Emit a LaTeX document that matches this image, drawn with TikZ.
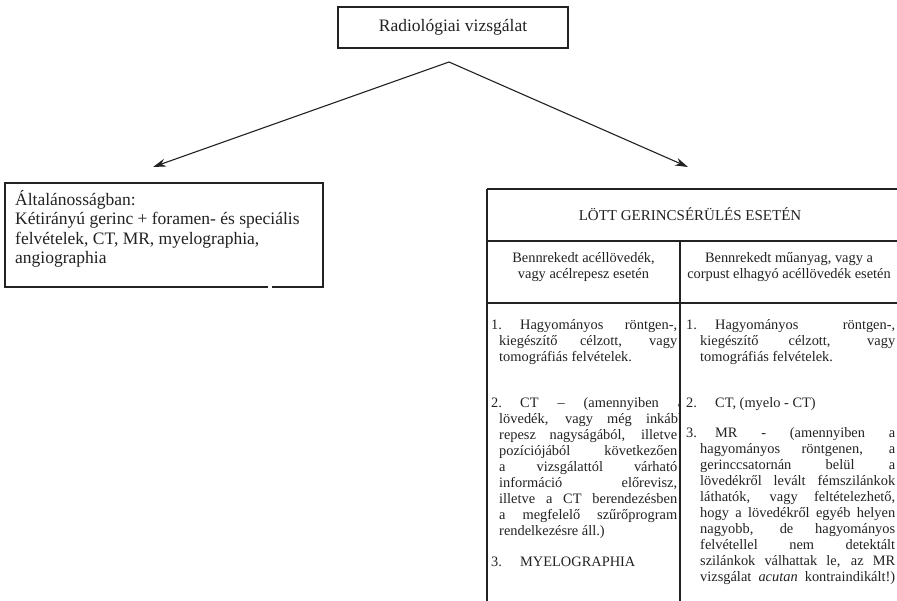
\documentclass[tikz,border=0pt]{standalone}
\usepackage{fontspec}
\setmainfont{Liberation Serif}
\usetikzlibrary{arrows.meta}
\definecolor{ink}{HTML}{222222}
% one justified line of a given width
\newcommand{\jline}[2]{\makebox[#1][s]{#2}}
\tikzset{headtip/.tip={Stealth[length=13pt,width=8pt]}}
\begin{document}
\begin{tikzpicture}[x=1pt,y=-1pt,
  boxline/.style={draw=ink, line width=1.1pt},
  gridline/.style={draw=ink, line width=1.3pt},
  conn/.style={draw=ink, line width=1.1pt},
  bigtxt/.style={font=\fontsize{17.5}{19.5}\selectfont, text=ink},
  % multi-line body texts are placed by the baseline of their last line
  bodytxt/.style={font=\fontsize{14.4}{16}\selectfont, text=ink, inner sep=0pt, anchor=base west, align=left},
  headtxt/.style={font=\fontsize{14.4}{16.5}\selectfont, text=ink, inner sep=0pt, align=center},
]
\useasboundingbox (0,0) rectangle (897,601);
\fill[white] (0,0) rectangle (897,601);

% root box
\node[boxline, bigtxt, minimum width=230pt, minimum height=41pt] (root) at (453,27.5) {Radiológiai vizsgálat};

% branching connector
\coordinate (apex) at (449,62);
\coordinate (ltip) at (153,167);
\coordinate (rtip) at (688,167);
\draw[conn, headtip-headtip] (ltip) -- (apex) -- (rtip);

% general box
\coordinate (gnw) at (5,183);
\coordinate (gne) at (323,183);
\coordinate (gse) at (323,287);
\coordinate (gsw) at (5,287);
\coordinate (ggapl) at (268,287);
\coordinate (ggapr) at (272,287);
\draw[boxline] (ggapl) -- (gsw) -- (gnw) -- (gne) -- (gse) -- (ggapr);
\node[bigtxt, anchor=north west, align=left, inner sep=0pt] (general) at (15,190)
  {Általánosságban:\\Kétirányú gerinc + foramen- és speciális\\felvételek, CT, MR, myelographia,\\angiographia};

% gunshot table frame
\coordinate (tnw) at (487,189);
\coordinate (tne) at (897,189);
\coordinate (hw) at (487,241);
\coordinate (he) at (897,241);
\coordinate (sw) at (487,303);
\coordinate (se) at (897,303);
\coordinate (ds) at (680,241);
\coordinate (lb) at (487,601);
\coordinate (db) at (680,601);
\draw[gridline] (tnw) -- (tne);
\draw[gridline] (hw) -- (he);
\draw[gridline] (sw) -- (se);
\draw[gridline] (tnw) -- (lb);
\draw[gridline] (ds) -- (db);

\node[headtxt, font=\fontsize{15}{17}\selectfont] (title) at (690,214) {LÖTT GERINCSÉRÜLÉS ESETÉN};
\node[headtxt] (subl) at (583.5,267) {Bennrekedt acéllövedék,\\vagy acélrepesz esetén};
\node[headtxt] (subr) at (789,267) {Bennrekedt műanyag, vagy a\\corpust elhagyó acéllövedék esetén};

% left column
\begin{scope}
\clip (487,303) rectangle (680,601);
\node[bodytxt] (l1) at (491,361.5)
  {\makebox[29pt][l]{1.}\jline{157pt}{Hagyományos röntgen-,}\\
   \hspace*{8pt}\jline{178pt}{kiegészítő célzott, vagy}\\
   \hspace*{8pt}tomográfiás felvételek.};
\node[bodytxt] (l2) at (491,535.5)
  {\makebox[29pt][l]{2.}\jline{164pt}{CT – (amennyiben a}\\
   \hspace*{8pt}\jline{186pt}{lövedék, vagy még inkább}\\
   \hspace*{8pt}\jline{178pt}{repesz nagyságából, illetve}\\
   \hspace*{8pt}\jline{178pt}{pozíciójából következően}\\
   \hspace*{8pt}\jline{178pt}{a vizsgálattól várható}\\
   \hspace*{8pt}\jline{178pt}{információ előrevisz,}\\
   \hspace*{8pt}\jline{178pt}{illetve a CT berendezésben}\\
   \hspace*{8pt}\jline{178pt}{a megfelelő szűrőprogram}\\
   \hspace*{8pt}rendelkezésre áll.)};
\node[bodytxt] (l3) at (491,566.5)
  {\makebox[29pt][l]{3.}MYELOGRAPHIA};
\end{scope}

% right column
\node[bodytxt] (r1) at (686,361.5)
  {\makebox[29pt][l]{1.}\jline{180pt}{Hagyományos röntgen-,}\\
   \hspace*{14pt}\jline{195pt}{kiegészítő célzott, vagy}\\
   \hspace*{14pt}tomográfiás felvételek.};
\node[bodytxt] (r2) at (686,407.5)
  {\makebox[29pt][l]{2.}CT, (myelo - CT)};
\node[bodytxt] (r3) at (686,581.5)
  {\makebox[29pt][l]{3.}\jline{180pt}{MR - (amennyiben a}\\
   \hspace*{14pt}\jline{195pt}{hagyományos röntgenen, a}\\
   \hspace*{14pt}\jline{195pt}{gerinccsatornán belül a}\\
   \hspace*{14pt}\jline{195pt}{lövedékről levált fémszilánkok}\\
   \hspace*{14pt}\jline{195pt}{láthatók, vagy feltételezhető,}\\
   \hspace*{14pt}\jline{195pt}{hogy a lövedékről egyéb helyen}\\
   \hspace*{14pt}\jline{195pt}{nagyobb, de hagyományos}\\
   \hspace*{14pt}\jline{195pt}{felvétellel nem detektált}\\
   \hspace*{14pt}\jline{195pt}{szilánkok válhattak le, az MR}\\
   \hspace*{14pt}\jline{195pt}{vizsgálat \textit{acutan} kontraindikált!)}};
\end{tikzpicture}
\end{document}
